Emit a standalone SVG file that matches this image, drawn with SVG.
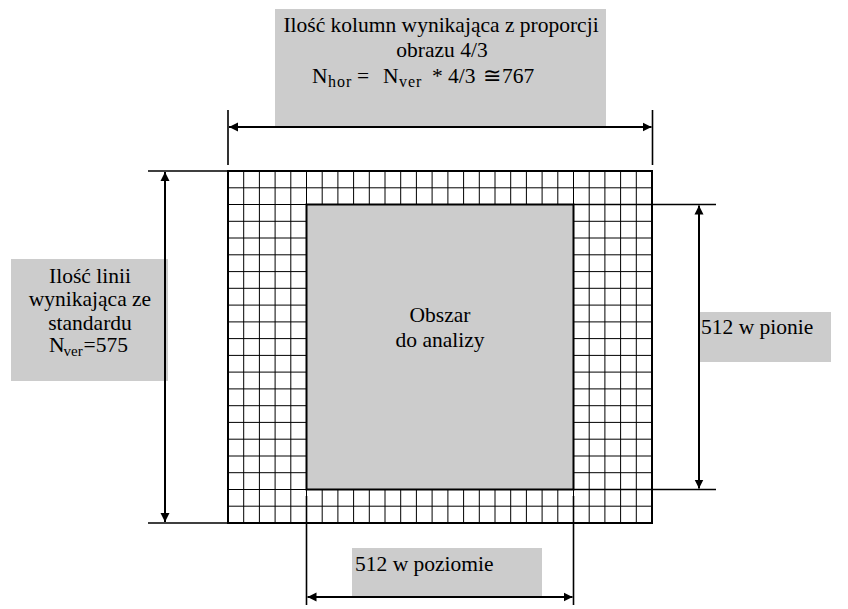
<svg xmlns="http://www.w3.org/2000/svg" width="848" height="609" viewBox="0 0 848 609" font-family="'Liberation Serif', 'Times New Roman', Times, serif">
<style>
text{font-size:21.5px;fill:#000}
.sub{font-size:15px}
.subt{font-size:16px;letter-spacing:1px}
.box{fill:#cccccc;stroke:none}
.grid{fill:none;stroke:#000;stroke-width:1}
.frame{fill:none;stroke:#000;stroke-width:2}
.ext{fill:none;stroke:#000;stroke-width:1.6}
.dim{fill:none;stroke:#000;stroke-width:2}
</style>
<defs>
<marker id="ah" viewBox="0 0 10 10" refX="10" refY="5" markerUnits="userSpaceOnUse" markerWidth="9" markerHeight="10" orient="auto-start-reverse">
<path d="M0,0 L10,5 L0,10 z" fill="#000"/>
</marker>
</defs>
<rect width="848" height="609" fill="#fff"/>

<g id="top-label">
<rect class="box" x="275" y="9" width="331" height="118"/>
<text x="441" y="32" text-anchor="middle">Ilość kolumn wynikająca z proporcji</text>
<text x="442" y="57" text-anchor="middle">obrazu 4/3</text>
<text y="83"><tspan x="312">N</tspan><tspan class="subt" x="328" y="87">hor</tspan><tspan x="357" y="83">=</tspan><tspan x="383">N</tspan><tspan class="subt" x="399" y="87">ver</tspan><tspan x="432" y="83">*</tspan><tspan x="448">4/3</tspan><tspan x="483">≅</tspan><tspan x="502">767</tspan></text>
</g>

<g id="left-label">
<rect class="box" x="11" y="259" width="157" height="122"/>
<text x="90" y="283" text-anchor="middle">Ilość linii</text>
<text x="90" y="306" text-anchor="middle">wynikająca ze</text>
<text x="90" y="330" text-anchor="middle">standardu</text>
<text y="352"><tspan x="49">N</tspan><tspan class="sub" x="63.5" y="356">ver</tspan><tspan x="83.5" y="352">=575</tspan></text>
</g>

<g id="grid">
<rect x="228" y="171" width="424" height="352" fill="#fff"/>
<path class="grid" d="M243.7,171V523M259.4,171V523M275.1,171V523M290.8,171V523M306.5,171V523M322.2,171V523M337.9,171V523M353.6,171V523M369.3,171V523M385,171V523M400.7,171V523M416.4,171V523M432.1,171V523M447.9,171V523M463.6,171V523M479.3,171V523M495,171V523M510.7,171V523M526.4,171V523M542.1,171V523M557.8,171V523M573.5,171V523M589.2,171V523M604.9,171V523M620.6,171V523M636.3,171V523
M228,187.8H652M228,204.5H652M228,221.3H652M228,238H652M228,254.8H652M228,271.6H652M228,288.3H652M228,305.1H652M228,321.9H652M228,338.6H652M228,355.4H652M228,372.1H652M228,388.9H652M228,405.7H652M228,422.4H652M228,439.2H652M228,456H652M228,472.7H652M228,489.5H652M228,506.2H652"/>
<rect class="frame" x="228" y="171" width="424" height="352"/>
</g>

<g id="analysis-area">
<rect x="306.5" y="204.5" width="267" height="285" fill="#cccccc" stroke="#000" stroke-width="2"/>
<text x="440" y="322" text-anchor="middle">Obszar</text>
<text x="440" y="347" text-anchor="middle">do analizy</text>
</g>

<g id="right-label">
<rect class="box" x="699" y="312" width="132" height="50"/>
<text x="701" y="334">512 w pionie</text>
</g>

<g id="bottom-label">
<rect class="box" x="352" y="548" width="190" height="49"/>
<text x="355" y="571">512 w poziomie</text>
</g>

<g id="connectors">
<path class="ext" d="M228,110V165M652.5,110V165"/>
<path class="ext" d="M148,171H228M148,523H228"/>
<path class="ext" d="M573.5,204.5H716M573.5,489.5H716"/>
<path class="ext" d="M306.5,496V605M573.5,496V605"/>
<line class="dim" x1="229" y1="127" x2="651.5" y2="127" marker-start="url(#ah)" marker-end="url(#ah)"/>
<line class="dim" x1="165" y1="172" x2="165" y2="522" marker-start="url(#ah)" marker-end="url(#ah)"/>
<line class="dim" x1="699" y1="205.5" x2="699" y2="488.5" marker-start="url(#ah)" marker-end="url(#ah)"/>
<line class="dim" x1="307.5" y1="597" x2="572.5" y2="597" marker-start="url(#ah)" marker-end="url(#ah)"/>
</g>
</svg>
